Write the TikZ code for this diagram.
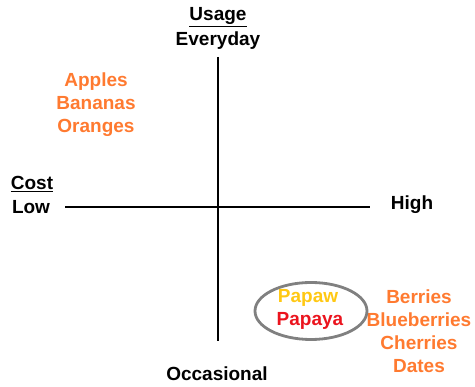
\documentclass[tikz,border=0pt]{standalone}
\usepackage{fontspec}
\usetikzlibrary{shapes.geometric}
\setmainfont{Liberation Sans}
\definecolor{fruitorange}{RGB}{255,122,48}
\definecolor{papawyellow}{RGB}{255,200,20}
\definecolor{papayared}{RGB}{235,20,30}
\definecolor{ringgray}{RGB}{128,128,128}
\tikzset{
  lbl/.style={font=\fontsize{19}{23}\selectfont\bfseries, inner sep=0pt, align=center},
  fruit/.style={lbl, text=fruitorange},
  axis/.style={line width=1.3pt, black}
}
\begin{document}
\begin{tikzpicture}[x=1pt,y=-1pt]
\useasboundingbox (0,0) rectangle (475,387);
% axes
\coordinate (vt) at (218,57);
\coordinate (vb) at (218,341);
\coordinate (hl) at (65,207);
\coordinate (hr) at (370,207);
\draw[axis] (vt) -- (vb);
\draw[axis] (hl) -- (hr);
% labels
\node[lbl] (usage) at (218,17) {\underline{Usage}};
\node[lbl] (everyday) at (218,41) {Everyday};
\node[lbl] (cost) at (32,184) {\underline{Cost}};
\node[lbl] (low) at (31,207) {Low};
\node[lbl] (high) at (412,205) {High};
\node[lbl] (occ) at (217,374) {Occasional};
% fruits
\node[fruit] (apples) at (96,105) {Apples\\Bananas\\Oranges};
\node[fruit] (berries) at (419,331) {Berries\\Blueberries\\Cherries\\Dates};
\node[draw=ringgray, line width=2.8pt, ellipse, minimum width=112pt, minimum height=57pt] (ring) at (311,311) {};
\node[lbl, text=papawyellow] (papaw) at (308,298) {Papaw};
\node[lbl, text=papayared] (papaya) at (310,321) {Papaya};
\end{tikzpicture}
\end{document}
